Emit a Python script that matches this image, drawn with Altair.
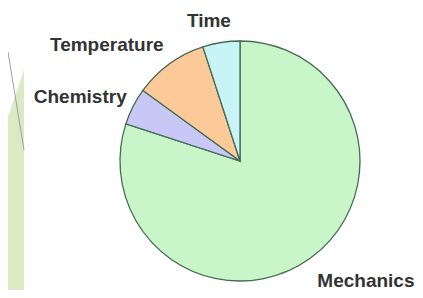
import altair as alt
import pandas as pd

categories = ["Mechanics", "Chemistry", "Temperature", "Time"]
values = [80, 5, 10, 5]
order_idx = [0, 1, 2, 3]
colors = ["#c9f6c9", "#c8c8f6", "#fcca99", "#c8f4f7"]

df = pd.DataFrame({"category": categories, "value": values, "idx": order_idx})
dummy = pd.DataFrame({"d": [0]})

CX, CY, R = 232, 153, 120
STROKE = "#466b54"

# slide decorations (left strip)
deco_rect = alt.Chart(dummy).mark_rect(color="#dbe9c4").encode(
    x=alt.value(0), x2=alt.value(16), y=alt.value(108), y2=alt.value(290)
)
deco_tri = alt.Chart(dummy).mark_point(
    shape="M1,-1L1,1L0.32,1Z", size=2209, filled=True, opacity=1, color="#dbe9c4", strokeWidth=0
).encode(x=alt.value(-7.5), y=alt.value(85.5))
deco_line = alt.Chart(dummy).mark_rule(color="#a0a0a0", strokeWidth=1).encode(
    x=alt.value(0), y=alt.value(44), x2=alt.value(16), y2=alt.value(142)
)

pie = alt.Chart(df).mark_arc(
    outerRadius=R, stroke=STROKE, strokeWidth=1.3
).encode(
    theta=alt.Theta("value:Q", stack=True),
    order=alt.Order("idx:Q"),
    color=alt.Color("category:N", scale=alt.Scale(domain=categories, range=colors), legend=None),
    x=alt.value(CX), y=alt.value(CY),
)

base_lbl = alt.Chart(df).transform_window(
    cum="sum(value)", sort=[alt.SortField("idx")]
).transform_joinaggregate(
    total="sum(value)"
).transform_calculate(
    mid="2*PI*(datum.cum - datum.value/2)/datum.total"
)

label_style = {
    "Mechanics": dict(align="left", dx=-2, dy=11),
    "Chemistry": dict(align="right", dx=7, dy=-3),
    "Temperature": dict(align="right", dx=3, dy=-7),
    "Time": dict(align="center", dx=-10, dy=-7),
}

labels = []
for cat in categories:
    st = label_style[cat]
    labels.append(
        base_lbl.transform_filter(alt.datum.category == cat).mark_text(
            font="Liberation Sans", fontSize=19, fontWeight="bold", color="#333333",
            baseline="middle", **st
        ).encode(
            theta=alt.Theta("mid:Q", scale=None),
            radius=alt.value(135),
            text="category:N",
            x=alt.value(CX), y=alt.value(CY),
        )
    )

chart = alt.layer(deco_rect, deco_tri, deco_line, pie, *labels).properties(
    width=407, height=282, padding=0, autosize=alt.AutoSizeParams(type="none")
).configure_view(stroke=None)

chart.save("out.html", embed_options={"renderer": "svg", "actions": False})
